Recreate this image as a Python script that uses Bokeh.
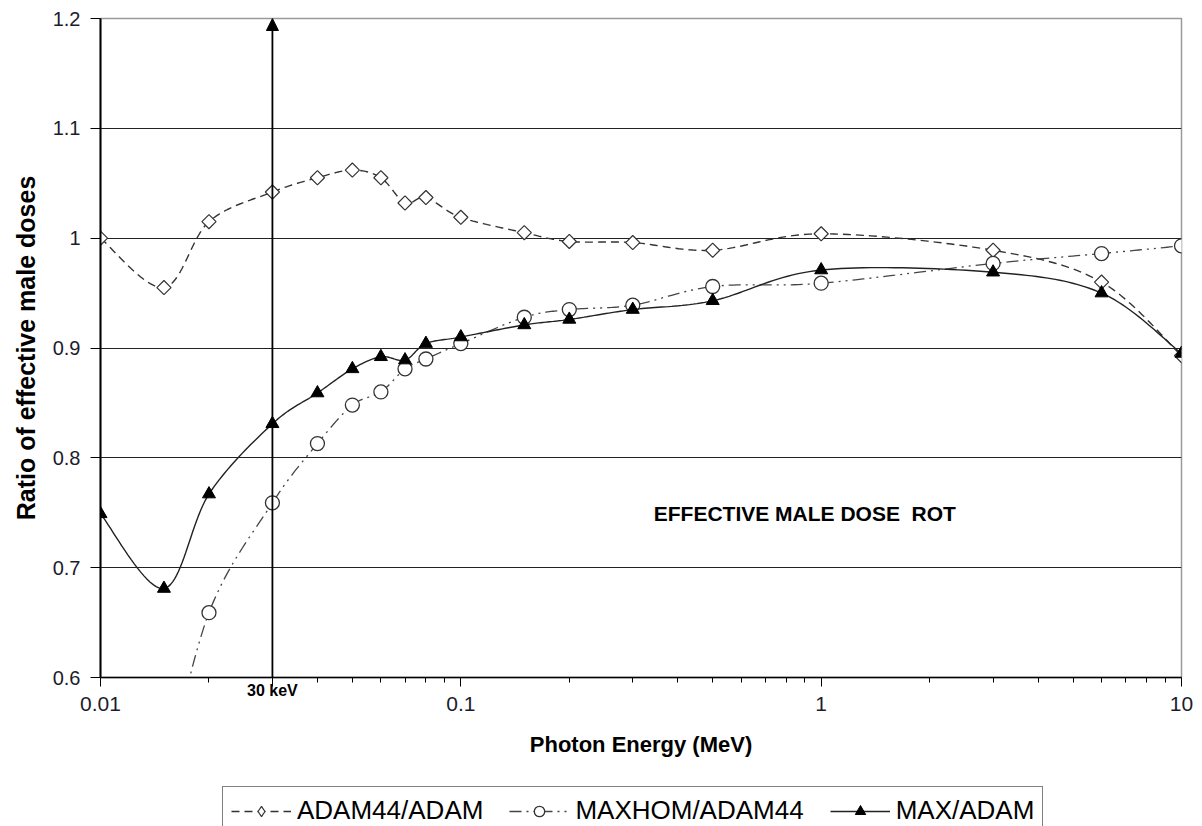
import numpy as np
from bokeh.plotting import figure
from bokeh.layouts import column
from bokeh.models import (Range1d, FixedTicker, CustomJSTickFormatter, Legend,
                          LegendItem, Arrow, NormalHead, Label, LogAxis)
from bokeh.embed import file_html
from bokeh.resources import INLINE

# ---- data ----
energy = [0.01, 0.015, 0.02, 0.03, 0.04, 0.05, 0.06, 0.07, 0.08, 0.1,
          0.15, 0.2, 0.3, 0.5, 1, 3, 6, 10]
adam44_adam = [1.000, 0.955, 1.015, 1.042, 1.055, 1.062, 1.055, 1.032, 1.037, 1.019,
               1.005, 0.997, 0.996, 0.989, 1.004, 0.989, 0.960, 0.893]
maxhom_energy = [0.015, 0.02, 0.03, 0.04, 0.05, 0.06, 0.07, 0.08, 0.1,
                 0.15, 0.2, 0.3, 0.5, 1, 3, 6, 10]
maxhom_adam44 = [0.50, 0.659, 0.759, 0.813, 0.848, 0.860, 0.881, 0.890, 0.904,
                 0.928, 0.935, 0.939, 0.956, 0.959, 0.977, 0.986, 0.993]
max_adam = [0.749, 0.681, 0.767, 0.831, 0.859, 0.881, 0.892, 0.889, 0.904, 0.910,
            0.921, 0.926, 0.935, 0.943, 0.971, 0.969, 0.950, 0.895]
y_ticks = [0.6, 0.7, 0.8, 0.9, 1.0, 1.1, 1.2]
x_decades = [0.01, 0.1, 1, 10]
series_names = ["ADAM44/ADAM", "MAXHOM/ADAM44", "MAX/ADAM"]
marker_energy = 0.03
marker_label = "30 keV"
annotation = "EFFECTIVE MALE DOSE\u00a0 ROT"


def smooth(xs, ys, n=24):
    """Excel-like smoothed line (cubic Bezier, Catmull-Rom tangents) in log-x space."""
    u = np.log10(np.asarray(xs, float))
    y = np.asarray(ys, float)
    m = len(u)
    ou, oy = [], []
    t = np.linspace(0, 1, n)
    for i in range(m - 1):
        p0 = np.array([u[max(i - 1, 0)], y[max(i - 1, 0)]])
        p1 = np.array([u[i], y[i]])
        p2 = np.array([u[i + 1], y[i + 1]])
        p3 = np.array([u[min(i + 2, m - 1)], y[min(i + 2, m - 1)]])
        c1 = p1 + (p2 - p0) / 6.0
        c2 = p2 - (p3 - p1) / 6.0
        b = ((1 - t) ** 3)[:, None] * p1 + (3 * (1 - t) ** 2 * t)[:, None] * c1 \
            + (3 * (1 - t) * t ** 2)[:, None] * c2 + (t ** 3)[:, None] * p2
        ou.extend(b[:, 0]); oy.extend(b[:, 1])
    return list(10 ** np.array(ou)), oy


FONT = "Liberation Sans"
STYLES = [
    dict(line=dict(line_color="#333333", line_width=1.4, line_dash="8 5"),
         marker=dict(marker="square", angle=np.pi / 4, size=10, fill_color="white",
                     line_color="#333333", line_width=1.2),
         legend_marker=dict(marker="diamond", size=15, fill_color="white",
                            line_color="#333333", line_width=1.2)),
    dict(line=dict(line_color="#444444", line_width=1.3, line_dash="12 5 2 5 2 5"),
         marker=dict(marker="circle", size=14, fill_color="white",
                     line_color="#333333", line_width=1.3),
         legend_marker=dict(marker="circle", size=13, fill_color="white",
                            line_color="#333333", line_width=1.3)),
    dict(line=dict(line_color="#222222", line_width=1.4),
         marker=dict(marker="triangle", size=13, fill_color="black", line_color="black"),
         legend_marker=dict(marker="triangle", size=12, fill_color="black",
                            line_color="black")),
]

p = figure(width=1202, height=770, x_axis_type="log", x_axis_location=None,
           x_range=Range1d(0.01, 10), y_range=Range1d(0.6, 1.2),
           output_backend="svg", toolbar_location=None,
           min_border_left=100, min_border_right=21, min_border_top=18, min_border_bottom=93)
p.background_fill_color = "white"
p.border_fill_color = "white"
p.outline_line_color = "#9a9a9a"
p.outline_line_width = 1.5

# grid
p.xgrid.grid_line_color = None
p.ygrid.ticker = FixedTicker(ticks=y_ticks)
p.ygrid.grid_line_color = "#222222"
p.ygrid.grid_line_width = 1.2

# y axis
p.yaxis.ticker = FixedTicker(ticks=y_ticks)
p.yaxis.formatter = CustomJSTickFormatter(code="return String(Math.round(tick*10)/10);")
p.yaxis.minor_tick_line_color = None
p.yaxis.major_tick_in = 0
p.yaxis.major_tick_out = 10
p.yaxis.major_tick_line_color = "black"
p.yaxis.axis_line_width = 2
p.yaxis.axis_line_color = "black"
p.yaxis.major_label_text_font = FONT
p.yaxis.major_label_text_font_size = "20px"
p.yaxis.major_label_text_color = "#1c1c2c"
p.yaxis.major_label_standoff = 10
p.yaxis.axis_label = "Ratio of effective male doses"
p.yaxis.axis_label_text_font = FONT
p.yaxis.axis_label_text_font_style = "bold"
p.yaxis.axis_label_text_font_size = "25px"
p.yaxis.axis_label_text_color = "black"
p.yaxis.axis_label_standoff = 10

# x axis A: axis line, ticks and the bold "30 keV" label
minor_x = [k * d for d in x_decades[:-1] for k in range(2, 10)]
axA = LogAxis(ticker=FixedTicker(ticks=x_decades + [marker_energy], minor_ticks=minor_x),
              formatter=CustomJSTickFormatter(
                  code="return Math.abs(tick-%g) < 1e-9 ? '%s' : '';" % (marker_energy, marker_label)),
              major_tick_in=0, major_tick_out=9, minor_tick_in=0, minor_tick_out=5,
              major_tick_line_color="black", minor_tick_line_color="black",
              axis_line_color="black", axis_line_width=1.5,
              major_label_text_font=FONT, major_label_text_font_style="bold",
              major_label_text_font_size="16px", major_label_text_color="black",
              major_label_standoff=-5)
p.add_layout(axA, "below")

# x axis B: decade labels and the title
axB = LogAxis(ticker=FixedTicker(ticks=x_decades),
              formatter=CustomJSTickFormatter(code="return String(Number(tick.toPrecision(3)));"),
              axis_line_color=None, major_tick_line_color=None, minor_tick_line_color=None,
              major_tick_in=0, major_tick_out=0, minor_tick_in=0, minor_tick_out=0,
              major_label_text_font=FONT, major_label_text_font_size="21px",
              major_label_text_color="#1c1c2c", major_label_standoff=-5,
              axis_label="Photon Energy (MeV)", axis_label_text_font=FONT,
              axis_label_text_font_style="bold", axis_label_text_font_size="22px",
              axis_label_text_color="black", axis_label_standoff=18)
p.add_layout(axB, "below")

# series
series = [(energy, adam44_adam), (maxhom_energy, maxhom_adam44), (energy, max_adam)]
for (xs, ys), st in zip(series, STYLES):
    sx, sy = smooth(xs, ys)
    p.line(sx, sy, **st["line"])
    p.scatter(xs, ys, **st["marker"])

# 30 keV marker with arrow
p.add_layout(Arrow(end=NormalHead(size=12, fill_color="black", line_color="black"),
                   x_start=marker_energy, y_start=0.6, x_end=marker_energy, y_end=1.2,
                   line_color="black", line_width=1.8))
p.add_layout(Label(x=0.343, y=0.749, text=annotation, text_align="left",
                   text_baseline="middle", text_font=FONT, text_font_style="bold",
                   text_font_size="21px", text_color="black"))

# ---- legend strip below the chart ----
lg = figure(width=1202, height=56, x_range=Range1d(0, 1), y_range=Range1d(0, 1),
            output_backend="svg", toolbar_location=None,
            x_axis_location=None, y_axis_location=None,
            min_border_left=100, min_border_top=4, min_border_right=21, min_border_bottom=0)
lg.outline_line_color = None
lg.grid.grid_line_color = None
lg.background_fill_color = "white"
lg.border_fill_color = "white"
items = []
for (xs, ys), st, name in zip(series, STYLES, series_names):
    # proxies placed outside the strip's visible range; they only feed the legend
    r1 = lg.line([x + 100 for x in xs], ys, **st["line"])
    r2 = lg.scatter([x + 100 for x in xs], ys, **st["legend_marker"])
    items.append(LegendItem(label=name, renderers=[r1, r2]))
legend = Legend(items=items, location=(122, -9), orientation="horizontal",
                label_text_font=FONT, label_text_font_size="26px",
                label_text_color="black", glyph_width=60, glyph_height=26,
                label_standoff=6, spacing=26, padding=8, margin=0,
                border_line_color="black", border_line_width=1.2,
                background_fill_alpha=1.0)
lg.add_layout(legend, "center")

layout = column(p, lg, spacing=0)
open("out.html", "w").write(file_html(layout, INLINE))
